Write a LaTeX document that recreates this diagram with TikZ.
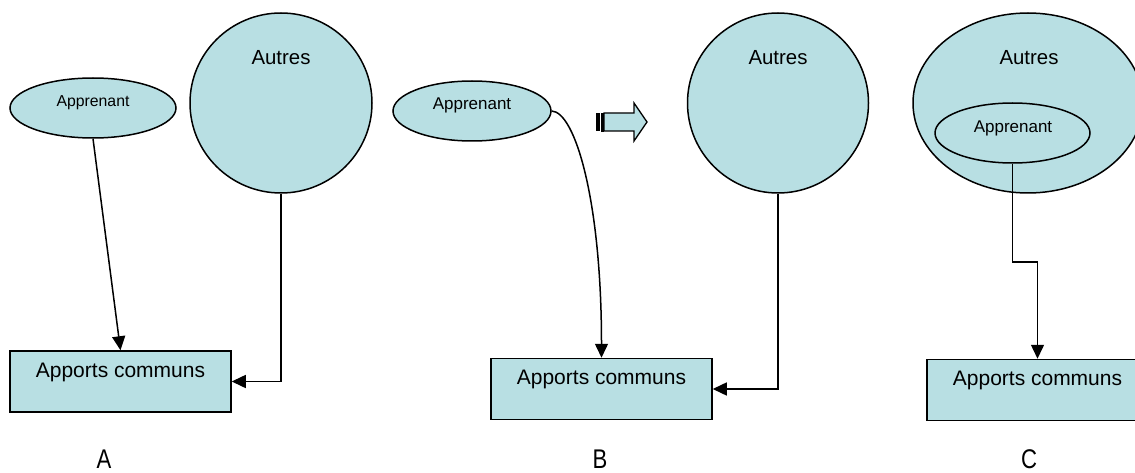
\documentclass[tikz,border=0pt]{standalone}
\usepackage{fontspec}
\setmainfont{Liberation Sans}
\usetikzlibrary{shapes.geometric,arrows.meta}
\definecolor{lightcyan}{RGB}{184,223,227}
\newcommand{\fszApp}{\fontsize{15.8}{18}\selectfont}
\newcommand{\fszAppB}{\fontsize{17}{20}\selectfont}
\newcommand{\fszAut}{\fontsize{20.4}{24}\selectfont}
\newcommand{\fszBox}{\fontsize{21}{25}\selectfont}
\newcommand{\fszLab}{\fontsize{27}{31}\selectfont}
\begin{document}
\begin{tikzpicture}[x=1pt,y=-1pt,
  shapeline/.style={draw=black,line width=1.5pt,fill=lightcyan},
  ell/.style={shapeline,ellipse,inner sep=0pt},
  abox/.style={shapeline,rectangle,inner sep=0pt,minimum width=221pt,minimum height=61pt},
  txt/.style={inner sep=0pt,text=black},
  conn/.style={draw=black,line width=1.5pt,-{Triangle[length=14pt,width=13pt]}},
  panellab/.style={inner sep=0pt,anchor=base,font=\fszLab,xscale=0.82}
]
\useasboundingbox (0,0) rectangle (1135,473);
\clip (0,0) rectangle (1135,473);
\fill[white] (0,0) rectangle (1135,473);

% ---------- Panel A ----------
\node[ell,minimum width=166pt,minimum height=60pt] (appA) at (93,108) {};
\node[txt,font=\fszApp] (appAt) at (93,103) {Apprenant};
\node[ell,minimum width=182pt,minimum height=180pt] (autA) at (281,103) {};
\node[txt,font=\fszAut] (autAt) at (281,58) {Autres};
\node[abox] (boxA) at (120.5,381.5) {};
\node[txt,font=\fszBox] (boxAt) at (120.5,372) {Apports communs};
\draw[conn] (appA.south) -- (boxA.north);
\draw[conn] (autA.south) |- (boxA.east);
\node[panellab] (labA) at (104,468) {A};

% ---------- Panel B ----------
\node[ell,minimum width=158pt,minimum height=60pt] (appB) at (472,111) {};
\node[txt,font=\fszAppB] (appBt) at (472,105) {Apprenant};
\node[ell,minimum width=181pt,minimum height=180pt] (autB) at (778,103) {};
\node[txt,font=\fszAut] (autBt) at (778,58) {Autres};
\node[abox] (boxB) at (601.5,389) {};
\node[txt,font=\fszBox] (boxBt) at (601.5,379) {Apports communs};
\draw[conn] (appB.east) .. controls (575,112) and (601.5,200) .. (boxB.north);
\draw[conn] (autB.south) |- (boxB.east);
\node[panellab] (labB) at (600,468) {B};

% block arrow
\fill[black] (596,113) rectangle (600,131);
\filldraw[fill=black,draw=black,line width=0.6pt] (601.5,113) rectangle (603.2,131);
\draw[fill=lightcyan,draw=black,line width=1.3pt,line join=miter]
  (604,113) -- (634,113) -- (634,103) -- (647,122) -- (634,141) -- (634,131) -- (604,131) -- cycle;

% ---------- Panel C ----------
\node[ell,minimum width=230pt,minimum height=180pt] (autC) at (1028,103) {};
\node[txt,font=\fszAut] (autCt) at (1029,58) {Autres};
\node[ell,minimum width=155pt,minimum height=60pt] (appC) at (1012.5,133) {};
\node[txt,font=\fszAppB] (appCt) at (1013,128) {Apprenant};
\node[abox] (boxC) at (1037.5,390) {};
\node[txt,font=\fszBox] (boxCt) at (1037.5,380) {Apports communs};
\coordinate (cbend) at (1012.5,262);
\draw[conn] (appC.south) -- (cbend) -| (boxC.north);
\node[panellab] (labC) at (1029,468) {C};
\end{tikzpicture}
\end{document}
